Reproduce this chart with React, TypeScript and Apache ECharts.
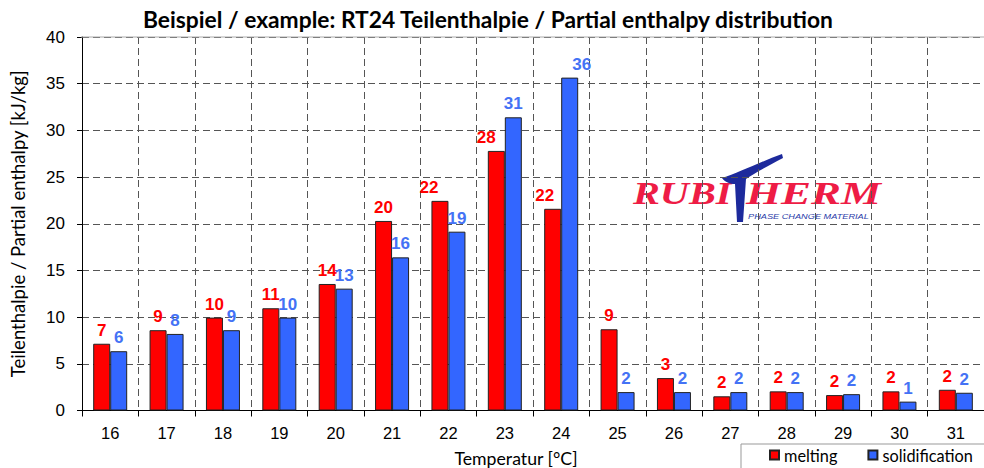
import React, { useEffect, useRef } from "react";
import * as echarts from "echarts";

const categories = ["16", "17", "18", "19", "20", "21", "22", "23", "24", "25", "26", "27", "28", "29", "30", "31"];
const melting = [7.15, 8.6, 9.95, 10.95, 13.55, 20.3, 22.45, 27.8, 21.6, 8.7, 3.47, 1.52, 2.05, 1.65, 2.05, 2.22];
const solidification = [6.35, 8.2, 8.6, 9.95, 13.05, 16.4, 19.15, 31.4, 35.65, 1.97, 1.97, 1.97, 1.97, 1.75, 0.95, 1.9];
const yTicks = { min: 0, max: 40, interval: 5 };

const title = "Beispiel / example: RT24 Teilenthalpie / Partial enthalpy distribution";
const yName = "Teilenthalpie / Partial enthalpy [kJ/kg]";
const xName = "Temperatur [°C]";

// manual label nudges (style only), by category index
const meltNudge: Record<number, number> = { 6: -11, 7: -10, 8: -8 };
const solidNudge: Record<number, number> = { 8: 12 };

const T_PATH =
  "M2,28 C18,23 40,12 62,4 L63,8 C46,17 33,24 26,29 L23,72 L17,72 L15,34 C10,34 5,32 2,28 Z";

let registered = false;

export default function App() {
  const ref = useRef<HTMLDivElement>(null);
  useEffect(() => {
    if (!registered) {
      echarts.graphic.registerShape("logoT", (echarts.graphic as any).extendPath(T_PATH, {}));
      registered = true;
    }
    const chart = echarts.init(ref.current!, undefined, { renderer: "svg" });
    const labelFont = { fontFamily: "Liberation Sans, Arial", fontWeight: "bold" as const, fontSize: 17 };
    const option: any = {
      animation: false,
      grid: { left: 81, top: 37, height: 373.5, width: 915, containLabel: false },
      xAxis: {
        type: "category",
        data: categories,
        axisLine: { lineStyle: { color: "#000", width: 1 } },
        axisTick: { show: true, length: 6, lineStyle: { color: "#000" } },
        axisLabel: { color: "#000", fontSize: 16.5, fontFamily: "Liberation Sans, Arial", margin: 14 },
        splitLine: { show: true, lineStyle: { color: "#555", type: [7, 4], width: 1 } },
      },
      yAxis: {
        type: "value",
        min: yTicks.min,
        max: yTicks.max,
        interval: yTicks.interval,
        name: yName,
        nameLocation: "middle",
        nameRotate: 90,
        nameGap: 55,
        nameTextStyle: { color: "#000", fontSize: 18.5, fontFamily: "Lato" },
        axisLine: { show: true, lineStyle: { color: "#000", width: 1 } },
        axisTick: { show: true, length: 5, lineStyle: { color: "#000" } },
        axisLabel: { color: "#000", fontSize: 17, fontFamily: "Liberation Sans, Arial", margin: 17 },
        splitLine: { show: true, lineStyle: { color: "#555", type: [7, 4], width: 1 } },
      },
      legend: {
        left: 769,
        top: 447,
        itemWidth: 9,
        itemHeight: 9,
        itemGap: 30,
        icon: "rect",
        padding: 0,
        textStyle: { fontSize: 16.3, fontFamily: "Lato", color: "#000", padding: [0, 0, 0, 0] },
        data: ["melting", "solidification"],
      },
      series: [
        {
          name: "melting",
          type: "bar",
          barWidth: 17,
          barGap: "0%",
          itemStyle: { color: "#ff0000", borderColor: "#222", borderWidth: 1 },
          label: {
            show: true,
            position: "top",
            color: "#ff0000",
            ...labelFont,
            formatter: (p: any) => String(Math.round(p.value)),
          },
          data: melting.map((v, i) => ({
            value: v,
            label: meltNudge[i] ? { offset: [meltNudge[i], 0] } : undefined,
          })),
        },
        {
          name: "solidification",
          type: "bar",
          barWidth: 17,
          barGap: "0%",
          itemStyle: { color: "#3366ff", borderColor: "#222", borderWidth: 1 },
          label: {
            show: true,
            position: "top",
            color: "#4472f5",
            ...labelFont,
            formatter: (p: any) => String(Math.round(p.value)),
          },
          data: solidification.map((v, i) => ({
            value: v,
            label: solidNudge[i] ? { offset: [solidNudge[i], 0] } : undefined,
          })),
        },
      ],
      graphic: [
        {
          type: "line",
          z: 5,
          shape: { x1: 81, y1: 37, x2: 984, y2: 37 },
          style: { stroke: "#aaa", lineWidth: 1 },
        },
        {
          type: "text",
          x: 488,
          y: 19,
          style: {
            text: title,
            fontSize: 22.8,
            fontWeight: "bold",
            fontFamily: "Lato",
            fill: "#000",
            textAlign: "center",
            textVerticalAlign: "middle",
          },
        },
        {
          type: "text",
          x: 516,
          y: 458,
          style: {
            text: xName,
            fontSize: 17.7,
            fontFamily: "Lato",
            fill: "#000",
            textAlign: "center",
            textVerticalAlign: "middle",
          },
        },
        {
          type: "rect",
          z: -1,
          shape: { x: 741, y: 444, width: 260, height: 40 },
          style: { fill: "#fff", stroke: "#999", lineWidth: 1 },
        },
        {
          type: "group",
          z: 10,
          children: [
            {
              type: "text",
              x: 633,
              y: 209,
              scaleX: 1.3,
              style: {
                text: "RUBI",
                fontSize: 31,
                fontWeight: "bold",
                fontStyle: "italic",
                fontFamily: "Liberation Serif, serif",
                fill: "#ee1c45",
                textVerticalAlign: "bottom",
                textAlign: "left",
              },
            },
            {
              type: "logoT",
              x: 720,
              y: 150,
              style: { fill: "#1d2a9c" },
            },
            {
              type: "text",
              x: 746,
              y: 209,
              scaleX: 1.45,
              style: {
                text: "HERM",
                fontSize: 31,
                fontWeight: "bold",
                fontStyle: "italic",
                fontFamily: "Liberation Serif, serif",
                fill: "#ee1c45",
                textVerticalAlign: "bottom",
                textAlign: "left",
              },
            },
            {
              type: "text",
              x: 748,
              y: 216,
              scaleX: 1.15,
              style: {
                text: "PHASE CHANGE MATERIAL",
                fontSize: 8,
                fontStyle: "italic",
                fontFamily: "Liberation Sans, Arial",
                fill: "#2a3aa8",
                textVerticalAlign: "middle",
                textAlign: "left",
              },
            },
          ],
        },
      ],
    };
    chart.setOption(option);
    return () => chart.dispose();
  }, []);
  return <div ref={ref} style={{ width: 984, height: 468, position: "absolute", left: 0, top: 0, background: "#fff" }} />;
}
